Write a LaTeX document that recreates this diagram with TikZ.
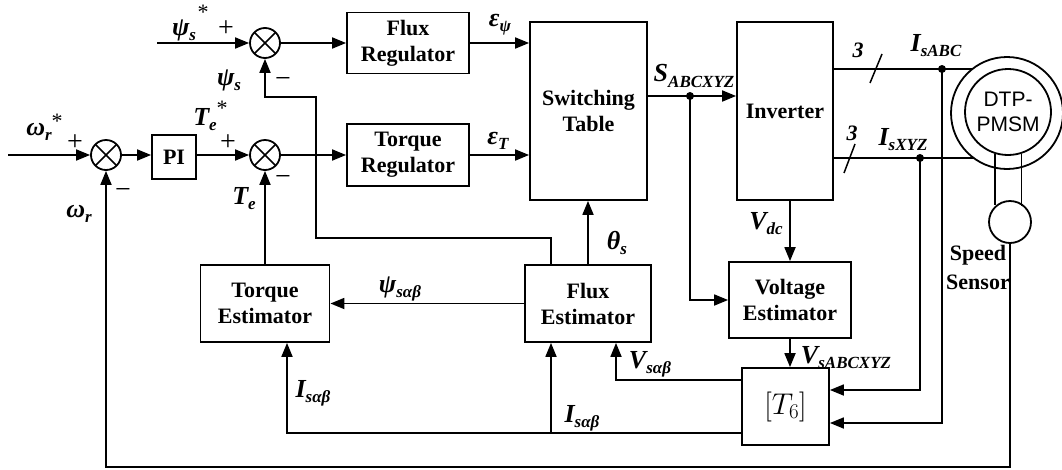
\RequirePackage{fix-cm}
\documentclass[tikz,border=0pt]{standalone}
\usepackage{fontspec}
\setmainfont{Liberation Serif}
\newfontfamily\sansf{Liberation Sans}
\usetikzlibrary{arrows.meta,calc}
\newcommand\mysym[2]{{\fontsize{26}{26}\selectfont\bfseries\itshape #1}{\fontsize{17}{17}\selectfont\bfseries\itshape\raisebox{-0.3em}{#2}}}
\tikzset{
  block/.style={draw, rectangle, inner sep=0pt, align=center, font=\fontsize{22}{26}\selectfont\bfseries},
  sumc/.style={draw, circle, minimum size=30pt, inner sep=0pt, path picture={\draw[line width=1.5pt] (path picture bounding box.north west) -- (path picture bounding box.south east) (path picture bounding box.north east) -- (path picture bounding box.south west);}},
  lab/.style={inner sep=0pt, anchor=center},
  sgn/.style={inner sep=0pt, font=\fontsize{28}{28}\selectfont},
  star/.style={inner sep=0pt, font=\fontsize{22}{22}\selectfont},
  dotc/.style={fill, circle, inner sep=0pt, minimum size=8pt}
}
\begin{document}
\begin{tikzpicture}[x=1pt, y=-1pt, line width=1.8pt, >={Triangle[length=14pt,width=11pt]}]
\useasboundingbox (0,0) rectangle (1062,469);
% blocks
\node[sumc] (s1) at (265,43) {};
\node[sumc] (s2) at (106,155) {};
\node[sumc] (s3) at (265,155) {};
\node[block, minimum width=44pt, minimum height=44pt] (pi) at (174,157) {PI};
\node[block, minimum width=122pt, minimum height=61pt] (fluxreg) at (408,43) {Flux\\Regulator};
\node[block, minimum width=122pt, minimum height=62pt] (torqreg) at (408,155) {Torque\\Regulator};
\node[block, minimum width=117pt, minimum height=178pt] (switch) at (588.5,111) {Switching\\Table};
\node[block, minimum width=96pt, minimum height=178pt] (inverter) at (785,111) {Inverter};
\node[block, minimum width=122pt, minimum height=76pt] (volest) at (790,300) {Voltage\\Estimator};
\node[block, minimum width=87pt, minimum height=77pt, font=\fontsize{30}{30}\selectfont] (t6) at (785.5,406.5) {$\left[T_{6}\right]$};
\node[block, minimum width=126pt, minimum height=77pt] (fluxest) at (588,303.5) {Flux\\Estimator};
\node[block, minimum width=129pt, minimum height=77pt] (torqest) at (265,303.5) {Torque\\Estimator};
% motor
\node[draw, circle, minimum size=112pt, inner sep=0pt] (motor) at (1007,113) {};
\node[draw, circle, minimum size=86pt, inner sep=0pt, align=center, font=\sansf\fontsize{21}{25}\selectfont] (motorin) at (1008,112) {DTP-\\PMSM};
\node[draw, circle, minimum size=42pt, inner sep=0pt] (sensor) at (1010,222) {};
\draw (motorin.-107.6) -- (motorin.-107.6 |- sensor.131.8);
\draw (motorin.-72.4) -- (motorin.-72.4 |- sensor.48.2);
% coordinates
\coordinate (ina) at (157,43);
\coordinate (inb) at (8,155);
\coordinate (sd) at (690,96);
\coordinate (ia) at (942,69);
\coordinate (ib) at (920,158);
\coordinate (ma) at (972,69);
\coordinate (mb) at (974,158);
\coordinate (fa) at (551,238);
\coordinate (fb) at (316,97);
\coordinate (bot) at (0,467);
\coordinate (t6wa) at ($(t6.west)+(0,-26.5)$);
\coordinate (t6wb) at ($(t6.west)+(0,26.5)$);
\coordinate (jn) at ($(fluxest.south)+(-37,0)$);
% forward path
\draw[->] (ina) -- (s1);
\draw[->] (s1) -- (fluxreg);
\draw[->] (fluxreg) -- (fluxreg -| switch.west);
\draw[->] (inb) -- (s2);
\draw[->] (s2.east) -- (s2.east -| pi.west);
\draw[->] (pi.east |- s3) -- (s3);
\draw[->] (s3) -- (s3 -| torqreg.west);
\draw[->] (torqreg.east |- s3) -- (s3 -| switch.west);
\draw[->] (switch.east |- sd) -- (sd -| inverter.west);
\node[dotc] (sdot) at (sd) {};
\draw[->] (sd) |- (volest.west);
\draw[->] (inverter.south -| volest.north) -- (volest.north);
\draw[->] (volest.south) -- (volest.south |- t6.north);
\draw (inverter.east |- ia) -- (ma);
\draw (inverter.east |- ib) -- (mb);
\node[dotc] (iadot) at (ia) {};
\node[dotc] (ibdot) at (ib) {};
\draw[line width=1.5pt] (870,83) -- (882,54);
\draw[line width=1.5pt] (844,173) -- (855,144);
\draw[->] (ia) |- ($(t6.east)+(0,16.5)$);
\draw[->] (ib) |- ($(t6.east)+(0,-16.5)$);
% estimators
\draw[->] (t6wa) -| ($(fluxest.south)+(28,0)$);
\draw[->] (t6wb) -| ($(torqest.south)+(22,0)$);
\draw[->] (jn |- t6wb) -- (jn);
\draw[->] (fluxest.west) -- (fluxest.west -| torqest.east);
\draw[->] (fluxest.north) -- (fluxest.north |- switch.south);
\draw[->] (fa |- fluxest.north) -- (fa) -| (fb) -| (s1.south);
\draw[->] (torqest.north) -- (s3.south);
\draw[->] (sensor.south) -- (sensor.south |- bot) -| (s2.south);
% labels
\node[lab] (lpsis) at (184,30) {\mysym{ψ}{s}};
\node[star] (lpsisstar) at (203,12) {*};
\node[sgn] (p1) at (226,29) {+};
\node[lab] (lpsifb) at (229,80) {\mysym{ψ}{s}};
\node[sgn] (m1) at (283,82) {−};
\node[lab] (lwr) at (39,132) {\mysym{ω}{r}};
\node[star] (lwrstar) at (57,121) {*};
\node[sgn] (p2) at (75,143) {+};
\node[sgn] (m2) at (123,193) {−};
\node[lab] (lwrfb) at (79,214) {\mysym{ω}{r}};
\node[lab] (lte) at (205,120) {\mysym{T}{e}};
\node[star] (ltestar) at (222,108) {*};
\node[sgn] (p3) at (228,143) {+};
\node[lab] (ltefb) at (244,199) {\mysym{T}{e}};
\node[sgn] (m3) at (283,180) {−};
\node[lab] (leps1) at (500,25) {\mysym{ε}{ψ}};
\node[lab] (leps2) at (498,141) {\mysym{ε}{T}};
\node[lab] (ls) at (694,76) {\mysym{S}{ABCXYZ}};
\node[lab, font=\fontsize{22}{22}\selectfont\bfseries\itshape] (n3a) at (858,50) {3};
\node[lab, font=\fontsize{22}{22}\selectfont\bfseries\itshape] (n3b) at (852,133) {3};
\node[lab] (liabc) at (936,46) {\mysym{I}{sABC}};
\node[lab] (lixyz) at (903,140) {\mysym{I}{sXYZ}};
\node[lab] (lvdc) at (766,224) {\mysym{V}{dc}};
\node[lab] (lvs) at (846,358) {\mysym{V}{sABCXYZ}};
\node[lab, align=center, font=\fontsize{22}{29}\selectfont\bfseries] (lspeed) at (978,267) {Speed\\Sensor};
\node[lab] (ltheta) at (617,243) {\mysym{θ}{s}};
\node[lab] (lpsiab) at (400,289) {\mysym{ψ}{sαβ}};
\node[lab] (lvab) at (650,364) {\mysym{V}{sαβ}};
\node[lab] (liab1) at (582,418) {\mysym{I}{sαβ}};
\node[lab] (liab2) at (313,393) {\mysym{I}{sαβ}};
\end{tikzpicture}
\end{document}
